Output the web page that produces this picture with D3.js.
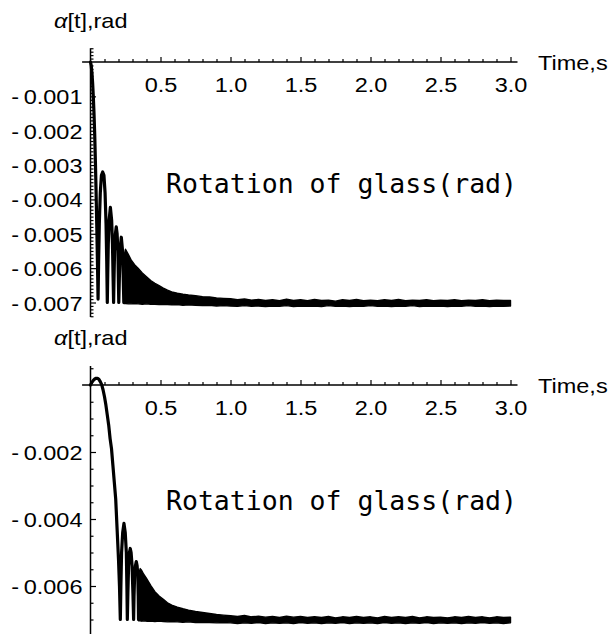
<!DOCTYPE html>
<html>
<head>
<meta charset="utf-8">
<script src="https://cdn.jsdelivr.net/npm/d3@7"></script>
<style>
  html, body { margin: 0; padding: 0; background: #fff; }
  svg { display: block; }
</style>
</head>
<body>
<script>
// ---------------- data ----------------
const xTicks = [0.5, 1.0, 1.5, 2.0, 2.5, 3.0];
const topYTicks = [-0.001, -0.002, -0.003, -0.004, -0.005, -0.006, -0.007];
const botYTicks = [-0.002, -0.004, -0.006];
const xAxisLabel = "Time,s";
const yAxisLabel = ["α", "[t],rad"];
const plotLabel = "Rotation of glass(rad)";

// top panel: distinct part of the curve (initial drop + first bounces)
const topLineT = [0, 0.005, 0.01, 0.015, 0.02, 0.025, 0.03, 0.035, 0.04, 0.045, 0.05, 0.054,
  0.058, 0.063, 0.07, 0.078, 0.087, 0.096, 0.104, 0.111, 0.116, 0.12,
  0.123, 0.127, 0.133, 0.142, 0.151, 0.157, 0.161, 0.165,
  0.168, 0.172, 0.178, 0.184, 0.19, 0.196, 0.199, 0.202,
  0.206, 0.211, 0.22, 0.229, 0.234, 0.238];
const topLineA = [0, -0.0001, -0.0003, -0.0006, -0.001, -0.0015, -0.0021, -0.0029, -0.0038, -0.0048, -0.0059, -0.0069,
  -0.0058, -0.0047, -0.0038, -0.0033, -0.0032, -0.0033, -0.0038, -0.0047, -0.0058, -0.0070,
  -0.0062, -0.0053, -0.0046, -0.00423, -0.0046, -0.0053, -0.0062, -0.0070,
  -0.0063, -0.0055, -0.0050, -0.0048, -0.0050, -0.0055, -0.0063, -0.0070,
  -0.0063, -0.0055, -0.0051, -0.0055, -0.0063, -0.0070];

// top panel: dense fast-oscillation band (upper / lower envelope)
const topBandT = [0.238, 0.242, 0.25, 0.27, 0.29, 0.315, 0.34, 0.37, 0.40, 0.43, 0.46, 0.49, 0.52, 0.55, 0.58,
  0.62, 0.66, 0.70, 0.75, 0.80, 0.85, 0.90, 0.95,
  1.0, 1.05, 1.1, 1.15, 1.2, 1.25, 1.3, 1.35, 1.4, 1.45, 1.5, 1.55, 1.6, 1.65, 1.7, 1.75, 1.8, 1.85, 1.9, 1.95,
  2.0, 2.05, 2.1, 2.15, 2.2, 2.25, 2.3, 2.35, 2.4, 2.45, 2.5, 2.55, 2.6, 2.65, 2.7, 2.75, 2.8, 2.85, 2.9, 2.95, 3.0];
const topBandHi = [-0.0070, -0.0056, -0.00545, -0.0056, -0.00576, -0.0059, -0.0060, -0.00614, -0.00625, -0.00636, -0.00644, -0.00651, -0.00658, -0.00664, -0.00669,
  -0.00673, -0.00676, -0.00678, -0.0068, -0.00683, -0.00684, -0.00687, -0.00688,
  -0.00689, -0.00692, -0.0069, -0.00693, -0.00691, -0.00694, -0.00692, -0.00695, -0.0069, -0.00694, -0.00692, -0.00695, -0.00691, -0.00694, -0.00693, -0.00696, -0.00692, -0.00694, -0.00691, -0.00695,
  -0.00693, -0.00695, -0.00692, -0.00694, -0.00691, -0.00695, -0.00693, -0.00694, -0.00692, -0.00695, -0.00693, -0.00694, -0.00692, -0.00695, -0.00693, -0.00694, -0.00692, -0.00695, -0.00693, -0.00694, -0.00694];
const topBandLo = [-0.00703, -0.00703, -0.00703, -0.00704, -0.00704, -0.00703, -0.00704, -0.00705, -0.00704, -0.00705, -0.00705, -0.00706, -0.00705, -0.00706, -0.00707,
  -0.00706, -0.00708, -0.00707, -0.00708, -0.00709, -0.00708, -0.0071, -0.00709,
  -0.0071, -0.00711, -0.00709, -0.00711, -0.0071, -0.00712, -0.0071, -0.00711, -0.00709, -0.00712, -0.0071, -0.00711, -0.0071, -0.00712, -0.00709, -0.00711, -0.0071, -0.00712, -0.0071, -0.00711,
  -0.00709, -0.00711, -0.0071, -0.00712, -0.0071, -0.00711, -0.00709, -0.00712, -0.0071, -0.00711, -0.0071, -0.00712, -0.0071, -0.00711, -0.00709, -0.00711, -0.0071, -0.00712, -0.0071, -0.00711, -0.0071];

// bottom panel: distinct part of the curve
const botLineT = [0, 0.01, 0.02, 0.03, 0.04, 0.05, 0.06, 0.07, 0.08, 0.09, 0.1, 0.11, 0.12, 0.13, 0.14, 0.15, 0.16, 0.17, 0.18, 0.19, 0.2, 0.207, 0.213,
  0.217, 0.222, 0.23, 0.239, 0.248, 0.256, 0.26, 0.263,
  0.267, 0.272, 0.278, 0.284, 0.29, 0.297, 0.303, 0.308,
  0.311, 0.315, 0.321, 0.327, 0.333, 0.338, 0.341, 0.343];
const botLineA = [0, 0.00008, 0.00014, 0.00018, 0.0002, 0.0002, 0.00017, 0.0001, 0.00001, -0.00015, -0.00035, -0.0006, -0.0009, -0.0012, -0.0016, -0.0019, -0.0024, -0.0029, -0.0034, -0.0043, -0.0052, -0.006, -0.0070,
  -0.0060, -0.0050, -0.0044, -0.00413, -0.0044, -0.0050, -0.0060, -0.0070,
  -0.0062, -0.0054, -0.0050, -0.00488, -0.0050, -0.0054, -0.0062, -0.0070,
  -0.0063, -0.0057, -0.0054, -0.00527, -0.0054, -0.0057, -0.0063, -0.0070];

// bottom panel: dense band
const botBandT = [0.343, 0.347, 0.355, 0.363, 0.38, 0.40, 0.43, 0.46, 0.49, 0.52, 0.55, 0.58,
  0.62, 0.66, 0.70, 0.75, 0.80, 0.85, 0.90, 0.95,
  1.0, 1.05, 1.1, 1.15, 1.2, 1.25, 1.3, 1.35, 1.4, 1.45, 1.5, 1.55, 1.6, 1.65, 1.7, 1.75, 1.8, 1.85, 1.9, 1.95,
  2.0, 2.05, 2.1, 2.15, 2.2, 2.25, 2.3, 2.35, 2.4, 2.45, 2.5, 2.55, 2.6, 2.65, 2.7, 2.75, 2.8, 2.85, 2.9, 2.95, 3.0];
const botBandHi = [-0.0070, -0.0056, -0.00548, -0.00552, -0.00565, -0.00577, -0.00598, -0.00617, -0.0063, -0.0064, -0.0065, -0.00657,
  -0.00663, -0.00668, -0.00672, -0.00676, -0.00679, -0.00682, -0.00685, -0.00687,
  -0.00689, -0.00691, -0.00688, -0.00692, -0.0069, -0.00693, -0.00691, -0.00694, -0.0069, -0.00693, -0.00691, -0.00694, -0.00692, -0.00694, -0.00691, -0.00695, -0.00692, -0.00694, -0.00691, -0.00694,
  -0.00692, -0.00695, -0.00691, -0.00694, -0.00692, -0.00694, -0.00691, -0.00695, -0.00692, -0.00694, -0.00693, -0.00695, -0.00692, -0.00694, -0.00691, -0.00694, -0.00692, -0.00695, -0.00692, -0.00694, -0.00693];
const botBandLo = [-0.00704, -0.00704, -0.00704, -0.00705, -0.00704, -0.00705, -0.00705, -0.00706, -0.00705, -0.00706, -0.00707, -0.00706,
  -0.00707, -0.00708, -0.00707, -0.00709, -0.00708, -0.00709, -0.0071, -0.00709,
  -0.0071, -0.00712, -0.0071, -0.00711, -0.00709, -0.00712, -0.0071, -0.00711, -0.0071, -0.00712, -0.00709, -0.00711, -0.0071, -0.00712, -0.0071, -0.00711, -0.00709, -0.00712, -0.0071, -0.00711,
  -0.0071, -0.00712, -0.00709, -0.00711, -0.0071, -0.00712, -0.0071, -0.00711, -0.00709, -0.00712, -0.0071, -0.00711, -0.0071, -0.00712, -0.0071, -0.00711, -0.00709, -0.00711, -0.0071, -0.00712, -0.0071];

// ---------------- drawing ----------------
const W = 611, H = 634;
const svg = d3.select("body").append("svg").attr("width", W).attr("height", H);
svg.append("rect").attr("width", W).attr("height", H).attr("fill", "#fff");

const x = d3.scaleLinear().domain([0, 3]).range([90.5, 510.5]);
const FONT = "'Liberation Sans', Arial, sans-serif";
const FS = 21, SX = 1.12;

function panel(o) {
  const y = o.y;
  const g = svg.append("g");
  const y0 = y(0), xa = x(0);

  // axis lines
  g.append("line").attr("x1", x(-0.06)).attr("x2", x(3.05)).attr("y1", y0).attr("y2", y0)
    .attr("stroke", "#000").attr("stroke-width", 1.5);
  g.append("line").attr("x1", xa).attr("x2", xa).attr("y1", y(o.yTopVal)).attr("y2", y(o.yBotVal))
    .attr("stroke", "#000").attr("stroke-width", 1.5);

  // x axis minor + major ticks (pointing up), labels below
  const xMinor = d3.range(1, 31).map(k => k / 10).filter(v => Math.abs(v * 2 - Math.round(v * 2)) > 1e-6);
  const gxm = g.append("g").attr("transform", `translate(0,${y0})`)
    .call(d3.axisBottom(x).tickValues(xMinor).tickSize(-3).tickFormat(""));
  gxm.select(".domain").remove();
  const gx = g.append("g").attr("transform", `translate(0,${y0})`)
    .call(d3.axisBottom(x).tickValues(xTicks).tickSize(-5).tickPadding(15).tickFormat(d => d.toFixed(1)));
  gx.select(".domain").remove();
  gx.selectAll("text").attr("font-family", FONT).attr("font-size", FS).attr("fill", "#000")
    .attr("transform", `scale(${SX},1)`);
  g.selectAll(".tick line").attr("stroke", "#000").attr("stroke-width", 1.2);

  // y axis ticks (pointing right), labels to the left
  const gym = g.append("g").attr("transform", `translate(${xa},0)`)
    .call(d3.axisLeft(y).tickValues(o.yMinor).tickSize(-3).tickFormat(""));
  gym.select(".domain").remove();
  const gy = g.append("g").attr("transform", `translate(${xa},0)`)
    .call(d3.axisLeft(y).tickValues(o.yTicks).tickSize(-5.5).tickPadding(8)
      .tickFormat(d => "-\u2009" + Math.abs(d).toFixed(3)));
  gy.select(".domain").remove();
  gy.selectAll("text").attr("font-family", FONT).attr("font-size", FS).attr("fill", "#000")
    .attr("dy", "0.36em")
    .attr("transform", `translate(-8,0) scale(${SX},1) translate(8,0)`);
  g.selectAll(".tick line").attr("stroke", "#000").attr("stroke-width", 1.2);

  // axis labels
  const yl = g.append("text").attr("transform", `translate(54,${o.yLabelBase}) scale(${SX},1)`)
    .attr("font-family", FONT).attr("font-size", FS).attr("fill", "#000");
  yl.append("tspan").attr("font-style", "italic").text(yAxisLabel[0]);
  yl.append("tspan").text(yAxisLabel[1]);
  g.append("text").attr("transform", `translate(538,${y0 + 7.5}) scale(${SX},1)`)
    .attr("font-family", FONT).attr("font-size", FS).attr("fill", "#000").text(xAxisLabel);

  // the curve: dense band as filled envelope, distinct arches as thick line
  const band = o.bandT.map((t, i) => ({ t, hi: o.bandHi[i], lo: o.bandLo[i] }));
  g.append("path").datum(band)
    .attr("d", d3.area().x(d => x(d.t)).y0(d => y(d.lo)).y1(d => y(d.hi)))
    .attr("fill", "#000").attr("stroke", "#000").attr("stroke-width", 1.4).attr("stroke-linejoin", "round");
  const pts = o.lineT.map((t, i) => ({ t, a: o.lineA[i] }));
  g.append("path").datum(pts)
    .attr("d", d3.line().x(d => x(d.t)).y(d => y(d.a)))
    .attr("fill", "none").attr("stroke", "#000").attr("stroke-width", 3.2)
    .attr("stroke-linejoin", "round").attr("stroke-linecap", "round");

  // plot label
  g.append("text").attr("x", 166).attr("y", o.textBase)
    .attr("font-family", "'DejaVu Sans Mono', monospace").attr("font-size", 26.5).attr("fill", "#000")
    .text(plotLabel);
}

panel({
  y: d3.scaleLinear().domain([0, -0.007]).range([62, 302.5]),
  yTopVal: 0.0004, yBotVal: -0.00742,
  yTicks: topYTicks,
  yMinor: d3.range(-74, 5).filter(k => k % 10 !== 0).map(k => k / 10000),
  yLabelBase: 28, textBase: 193,
  lineT: topLineT, lineA: topLineA,
  bandT: topBandT, bandHi: topBandHi, bandLo: topBandLo
});

panel({
  y: d3.scaleLinear().domain([0, -0.006]).range([385, 586]),
  yTopVal: 0.00057, yBotVal: -0.0076,
  yTicks: botYTicks,
  yMinor: d3.range(-15, 2).filter(k => k % 4 !== 0).map(k => k / 2000),
  yLabelBase: 345, textBase: 510,
  lineT: botLineT, lineA: botLineA,
  bandT: botBandT, bandHi: botBandHi, bandLo: botBandLo
});
</script>
</body>
</html>
